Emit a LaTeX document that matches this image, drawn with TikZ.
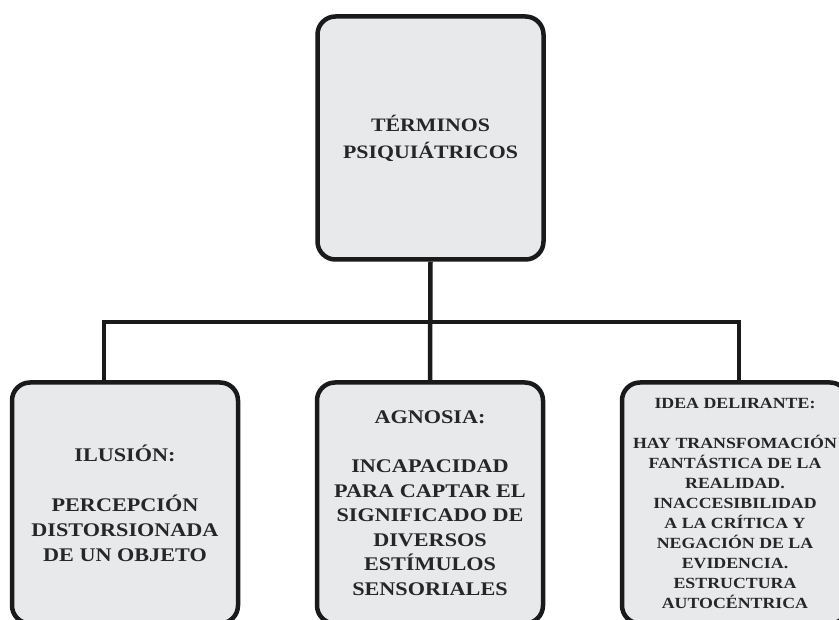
\documentclass[tikz,border=0pt]{standalone}
\usepackage{fontspec}
\setmainfont{Liberation Serif}[FakeStretch=1.15]
\definecolor{boxfill}{HTML}{E8E9EB}
\definecolor{txt}{HTML}{262626}
\definecolor{ln}{HTML}{1A1A1A}
\begin{document}
\begin{tikzpicture}[x=1pt,y=-1pt,
  termbox/.style={draw=ln, line width=4.5pt, fill=boxfill, rounded corners=18pt,
    minimum width=226pt, align=center, text=txt, font=\bfseries, inner sep=0pt},
  conn/.style={draw=ln, line width=4.5pt}]
\useasboundingbox (0,0) rectangle (839,620);
\clip (0,0) rectangle (839,620);
\fill[white] (0,0) rectangle (839,620);
\node[termbox, minimum height=243pt, font=\bfseries\fontsize{19}{27}\selectfont] (top) at (430.5,138)
  {TÉRMINOS\\PSIQUIÁTRICOS};
\node[termbox, minimum height=241pt, font=\bfseries\fontsize{19.3}{25}\selectfont] (ilu) at (125,503)
  {ILUSIÓN:\\[25pt]PERCEPCIÓN\\DISTORSIONADA\\DE UN OBJETO};
\node[termbox, minimum height=241pt, font=\bfseries\fontsize{19.3}{24.5}\selectfont] (agn) at (430,503)
  {AGNOSIA:\\[24.5pt]INCAPACIDAD\\PARA CAPTAR EL\\SIGNIFICADO DE\\DIVERSOS\\ESTÍMULOS\\SENSORIALES};
\node[termbox, minimum height=241pt, font=\bfseries\fontsize{15.5}{20}\selectfont] (ide) at (735,503)
  {IDEA DELIRANTE:\\[20pt]HAY TRANSFOMACIÓN\\FANTÁSTICA DE LA\\REALIDAD.\\INACCESIBILIDAD\\A LA CRÍTICA Y\\NEGACIÓN DE LA\\EVIDENCIA.\\ESTRUCTURA\\AUTOCÉNTRICA};
\coordinate (hl) at (104,322);
\coordinate (hr) at (739,322);
\draw[conn] (top.south) -- (agn.north);
\draw[conn] (hl |- ilu.north) -- (hl) -- (hr) -- (hr |- ide.north);
\end{tikzpicture}
\end{document}
